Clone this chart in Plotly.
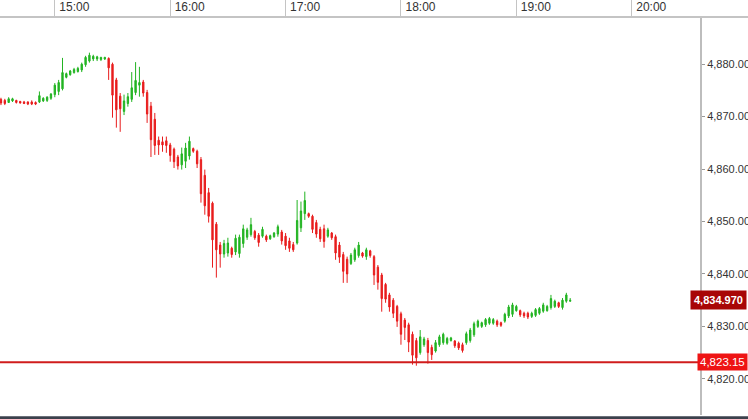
import pandas as pd
import plotly.graph_objects as go

# 2-minute bars
start_time = "2024-01-19 14:32"
bar_freq = "2min"

open_ = [4873.3, 4873.1, 4872.7, 4873.0, 4873.1, 4872.9, 4872.8, 4872.8, 4872.8, 4872.7,
         4872.8, 4873.0, 4873.1, 4873.5, 4874.2, 4874.8, 4875.3, 4877.5, 4878.0, 4878.4,
         4878.6, 4878.9, 4879.9, 4880.6, 4881.0, 4881.0, 4880.9, 4881.0,
         4881.1, 4880.0, 4877.0, 4873.9, 4871.0, 4872.5, 4873.3, 4874.6, 4876.0, 4876.6,
         4874.6, 4872.0, 4869.5, 4865.5, 4865.2, 4865.4, 4864.6, 4863.8, 4862.3, 4860.8,
         4861.5, 4862.5,
         4863.9, 4863.4, 4861.8, 4858.8, 4855.5, 4853.5, 4849.5, 4845.5, 4843.8, 4844.0,
         4844.9, 4844.2, 4843.9, 4845.8, 4847.0, 4847.5, 4848.1, 4847.4, 4847.2, 4847.2,
         4846.7, 4847.1, 4847.6, 4848.0, 4847.2, 4846.3, 4845.6, 4845.9, 4848.8, 4851.5,
         4851.5, 4851.0, 4849.8, 4848.5, 4848.6, 4847.2, 4847.8, 4847.1, 4845.5, 4843.7,
         4842.8, 4842.0, 4842.7, 4843.5, 4844.0, 4843.3, 4844.4, 4843.3, 4841.3, 4839.8,
         4838.0, 4836.0, 4835.0, 4833.8, 4832.4, 4831.2, 4830.3, 4828.5,
         4827.3, 4825.0, 4826.5, 4827.3, 4826.0, 4825.3, 4826.5, 4826.9, 4826.8, 4827.3,
         4827.2, 4826.8, 4826.5, 4826.9, 4827.3, 4828.4, 4830.0, 4830.0, 4830.3, 4830.6,
         4830.6, 4831.0, 4830.7, 4831.0, 4832.0, 4832.3, 4833.0, 4833.0, 4832.5, 4832.5,
         4831.9, 4832.1, 4832.5, 4832.9, 4833.0, 4833.6, 4833.8, 4834.5, 4833.6, 4834.8,
         4834.8]
high = [4873.6, 4873.4, 4873.7, 4873.6, 4873.2, 4873.0, 4873.0, 4872.9, 4873.1, 4872.9,
        4874.8, 4873.7, 4873.9, 4874.5, 4876.4, 4877.0, 4881.2, 4878.4, 4878.9, 4879.3,
        4879.5, 4880.3, 4881.6, 4882.2, 4881.8, 4881.6, 4881.4, 4881.4,
        4881.3, 4880.3, 4877.4, 4874.5, 4874.2, 4874.5, 4878.5, 4880.4, 4879.5, 4877.0,
        4875.1, 4872.8, 4870.7, 4866.2, 4866.2, 4866.2, 4865.0, 4864.1, 4862.7, 4864.1,
        4865.0, 4866.2,
        4864.1, 4863.7, 4862.3, 4859.9, 4856.4, 4853.8, 4849.9, 4846.1, 4846.5, 4846.9,
        4845.2, 4847.5, 4847.5, 4849.4, 4848.8, 4850.7, 4848.4, 4847.8, 4849.0, 4847.5,
        4847.5, 4848.0, 4849.4, 4848.4, 4847.8, 4846.9, 4846.1, 4854.1, 4853.8, 4855.7,
        4851.7, 4851.3, 4850.3, 4849.0, 4849.4, 4848.8, 4848.0, 4847.5, 4846.1, 4844.2,
        4843.3, 4844.0, 4845.0, 4846.1, 4844.2, 4845.0, 4844.6, 4843.6, 4841.7, 4840.2,
        4838.3, 4836.4, 4835.4, 4834.1, 4832.8, 4831.6, 4830.7, 4829.0,
        4827.8, 4829.3, 4828.0, 4827.8, 4826.5, 4827.4, 4828.4, 4828.8, 4828.0, 4828.0,
        4827.4, 4827.1, 4826.9, 4829.0, 4829.7, 4830.9, 4831.3, 4830.9, 4831.6, 4831.8,
        4831.6, 4831.3, 4830.9, 4832.6, 4834.1, 4834.5, 4834.1, 4833.2, 4832.8, 4832.8,
        4832.8, 4833.5, 4833.7, 4834.5, 4834.1, 4836.0, 4835.1, 4834.7, 4835.4, 4836.4,
        4835.4]
low = [4872.2, 4872.2, 4872.6, 4872.8, 4872.5, 4872.5, 4872.4, 4872.2, 4872.2, 4872.2,
       4872.6, 4872.8, 4872.8, 4873.2, 4873.7, 4874.1, 4875.0, 4877.3, 4877.8, 4878.2,
       4878.4, 4878.5, 4879.5, 4880.3, 4880.6, 4880.6, 4880.6, 4880.8,
       4877.0, 4869.8, 4867.9, 4867.1, 4870.3, 4871.9, 4872.8, 4874.1, 4873.8, 4873.8,
       4868.8, 4862.3, 4862.7, 4862.7, 4863.3, 4863.1, 4861.4, 4860.2, 4859.9, 4859.9,
       4860.2, 4861.8,
       4863.1, 4860.2, 4853.6, 4851.3, 4849.8, 4841.2, 4839.3, 4841.2, 4843.1, 4843.3,
       4843.1, 4843.6, 4843.1, 4845.0, 4846.5, 4847.1, 4846.5, 4845.2, 4846.9, 4846.1,
       4846.5, 4846.9, 4847.1, 4845.6, 4844.6, 4844.2, 4844.2, 4845.6, 4848.0, 4850.3,
       4850.7, 4847.8, 4846.9, 4846.1, 4845.0, 4846.9, 4846.5, 4842.7, 4842.1, 4838.3,
       4838.3, 4841.7, 4842.3, 4843.1, 4843.1, 4842.7, 4843.1, 4837.9, 4837.0, 4832.8,
       4834.5, 4832.8, 4831.6, 4829.9, 4826.5, 4827.4, 4825.1, 4822.7,
       4822.5, 4824.6, 4826.1, 4822.9, 4823.6, 4825.0, 4826.1, 4826.5, 4826.5, 4827.1,
       4825.9, 4825.5, 4825.0, 4826.5, 4826.9, 4828.0, 4829.7, 4829.7, 4829.9, 4830.3,
       4830.3, 4829.9, 4829.9, 4830.7, 4831.6, 4831.8, 4832.8, 4831.8, 4831.6, 4831.4,
       4831.6, 4831.8, 4832.2, 4832.6, 4832.8, 4833.2, 4833.5, 4833.5, 4833.2, 4834.5,
       4834.7]
close = [4872.6, 4872.5, 4873.4, 4873.4, 4872.7, 4872.6, 4872.5, 4872.4, 4872.4, 4872.4,
         4874.0, 4873.5, 4873.7, 4874.3, 4876.0, 4876.5, 4878.4, 4878.2, 4878.7, 4879.0,
         4879.2, 4880.0, 4881.3, 4881.7, 4881.5, 4881.4, 4881.3, 4881.3,
         4879.3, 4874.1, 4871.3, 4871.5, 4873.0, 4873.8, 4875.5, 4876.9, 4876.5, 4874.5,
         4870.5, 4865.6, 4864.5, 4864.6, 4864.6, 4864.5, 4862.6, 4861.4, 4860.6, 4862.9,
         4864.0, 4865.3,
         4863.4, 4861.0, 4855.3, 4853.0, 4851.0, 4846.5, 4844.6, 4843.8, 4845.8, 4845.9,
         4843.7, 4846.8, 4847.0, 4848.6, 4848.4, 4849.4, 4846.9, 4846.0, 4848.5, 4846.5,
         4847.3, 4847.8, 4849.0, 4846.3, 4845.4, 4844.9, 4844.6, 4850.2, 4852.0, 4854.0,
         4851.0, 4848.5, 4847.6, 4846.7, 4846.2, 4848.4, 4846.9, 4844.0, 4843.2, 4840.5,
         4840.0, 4843.6, 4844.6, 4845.5, 4843.4, 4844.6, 4843.5, 4839.8, 4838.4, 4835.3,
         4835.2, 4833.7, 4832.5, 4831.0, 4828.5, 4829.8, 4827.0, 4824.5,
         4824.0, 4828.0, 4827.6, 4825.0, 4824.6, 4826.9, 4828.0, 4828.5, 4827.7, 4827.8,
         4826.3, 4825.9, 4825.4, 4828.6, 4829.3, 4830.5, 4831.0, 4830.7, 4831.3, 4831.5,
         4831.3, 4830.3, 4830.2, 4832.3, 4833.7, 4834.1, 4833.8, 4832.2, 4832.0, 4831.8,
         4832.5, 4833.2, 4833.4, 4834.1, 4833.8, 4835.3, 4834.8, 4833.8, 4835.0, 4836.0,
         4834.97]

last_price = 4834.97
level_price = 4823.15
y_ticks = [4820, 4830, 4840, 4850, 4860, 4870, 4880]
x_range = ["2024-01-19 14:31:30", "2024-01-19 20:35:30"]
y_range = [4813.1, 4889.0]

times = pd.date_range(start_time, periods=len(close), freq=bar_freq)

fig = go.Figure()
fig.add_trace(go.Candlestick(
    x=times, open=open_, high=high, low=low, close=close,
    increasing=dict(line=dict(color="#22b422", width=1), fillcolor="#22b422"),
    decreasing=dict(line=dict(color="#e81c1c", width=1), fillcolor="#e81c1c"),
    whiskerwidth=0, hoverinfo="x+y",
))

# support level
fig.add_hline(y=level_price, line=dict(color="#d01c1c", width=2))

font = dict(family="Liberation Sans, Arial, sans-serif", size=11, color="#333333")

fig.add_annotation(x=0.995, xref="paper", y=level_price, yref="y", xanchor="left",
                   text=f"{level_price:,.2f}", showarrow=False,
                   font=dict(family=font["family"], size=11.5, color="white"),
                   bgcolor="#ee1414", borderpad=2)
fig.add_annotation(x=0.985, xref="paper", y=last_price, yref="y", xanchor="left",
                   text=f"<b>{last_price:,.3f}</b>", showarrow=False,
                   font=dict(family=font["family"], size=11, color="white"),
                   bgcolor="#a80606", borderpad=3)

# separator under the time labels, and the dark strip at the bottom
fig.add_shape(type="line", xref="paper", yref="paper", x0=0, x1=1.07, y0=1, y1=1,
              line=dict(color="#c4c4c4", width=2))
fig.add_shape(type="rect", xref="paper", yref="paper", x0=0, x1=1.07, y0=-0.012, y1=-0.003,
              line=dict(width=0), fillcolor="#3b414c")

fig.update_layout(
    width=748, height=419,
    margin=dict(l=0, r=48, t=17, b=4),
    paper_bgcolor="white", plot_bgcolor="white",
    showlegend=False, font=font, boxgap=0.5,
    xaxis=dict(
        type="date", side="top", range=x_range, rangeslider=dict(visible=False),
        dtick=3600000, tickformat="%H:%M", showgrid=False, zeroline=False,
        ticks="outside", ticklen=17, tickcolor="#c4c4c4", tickwidth=1,
        ticklabelposition="outside right", ticklabelstandoff=0, ticklabelshift=4,
        showline=False, tickfont=dict(font, size=12), automargin=False,
    ),
    yaxis=dict(
        side="right", range=y_range, tickvals=y_ticks, tickformat=",.2f",
        showgrid=False, zeroline=False, showline=True, linecolor="#bdbdbd", linewidth=2,
        ticks="outside", ticklen=3, tickcolor="#999999", tickfont=font, automargin=False,
    ),
)

# the page's default body margin would push the chart 8px in
fig.write_html("out.html", config={"displayModeBar": False},
               post_script="document.body.style.margin='0';document.body.style.padding='0';")
